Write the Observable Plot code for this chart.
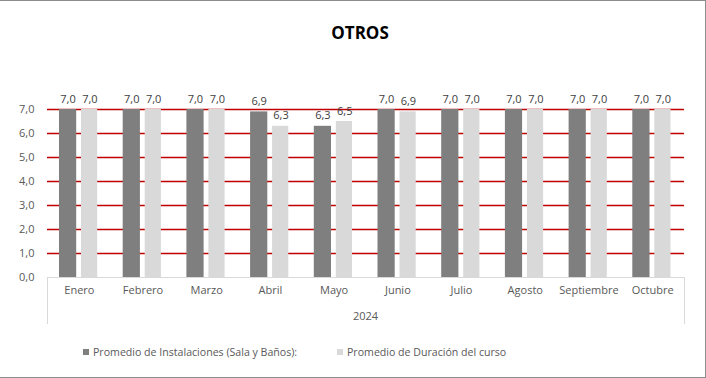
<!DOCTYPE html>
<html>
<head>
<meta charset="utf-8">
<script src="https://cdn.jsdelivr.net/npm/d3@7"></script>
<script src="https://cdn.jsdelivr.net/npm/@observablehq/plot@0.6"></script>
<style>
  html, body { margin: 0; padding: 0; background: #fff; }
  #wrap { position: relative; width: 706px; height: 378px; overflow: hidden; font-family: "Open Sans", sans-serif; }
  #wrap svg { position: absolute; left: 0; top: 0; }
  .abs { position: absolute; white-space: nowrap; line-height: 1; }
  #border { position: absolute; left: 0; top: 0; width: 706px; height: 378px; border-top: 1px solid #8c8c8c; border-right: 1px solid #8c8c8c; border-bottom: 1px solid #8c8c8c; box-sizing: border-box; pointer-events: none; }
  #axisbox { position: absolute; left: 47px; top: 277px; width: 638px; height: 47px; border: 1px solid #d9d9d9; border-bottom: none; box-sizing: border-box; pointer-events: none; }
</style>
</head>
<body>
<div id="wrap">
  <div id="axisbox"></div>
  <div id="title" class="abs" style="left:0; width:720px; top:24px; text-align:center; font-weight:bold; font-size:17px; color:#000;">OTROS</div>
  <div id="year" class="abs" style="left:47px; width:637px; top:310px; text-align:center; font-size:11px; color:#595959;">2024</div>
  <div id="legend" class="abs" style="left:83px; top:347px; font-size:10.6px; color:#595959;"></div>
  <div id="border"></div>
</div>
<script>
const months = ["Enero","Febrero","Marzo","Abril","Mayo","Junio","Julio","Agosto","Septiembre","Octubre"];
const instalaciones = [7.0,7.0,7.0,6.9,6.3,7.0,7.0,7.0,7.0,7.0];
const duracion = [7.0,7.0,7.0,6.3,6.5,6.9,7.0,7.0,7.0,7.0];
const seriesNames = ["Promedio de Instalaciones (Sala y Baños):", "Promedio de Duración del curso"];
const yearLabel = "2024";
const yTicks = [0,1,2,3,4,5,6,7];

const colors = ["#7f7f7f", "#d9d9d9"];
const gridColor = "#c00000";
const data = months.map((m, i) => ({month: m, inst: instalaciones[i], dur: duracion[i]}));
const fmt = v => v.toFixed(1).replace(".", ",");

const chart = Plot.plot({
  width: 706,
  height: 378,
  marginLeft: 47,
  marginRight: 22,
  marginTop: 109,
  marginBottom: 101,
  style: {fontFamily: "Open Sans, sans-serif", fontSize: "11px", color: gridColor, background: "transparent"},
  x: {domain: months, padding: 0, round: false, label: null},
  y: {domain: [0, 7], label: null},
  marks: [
    Plot.ruleY(yTicks.filter(d => d > 0), {stroke: gridColor, strokeWidth: 1.3}),
    Plot.barY(data, {x: "month", y: "inst", fill: colors[0], insetLeft: 12, insetRight: 34.5}),
    Plot.barY(data, {x: "month", y: "dur", fill: colors[1], insetLeft: 34, insetRight: 13.5}),
    Plot.text(data, {x: "month", y: "inst", text: d => fmt(d.inst), dx: -11.3, dy: -7, lineAnchor: "bottom", fill: "#404040", fontSize: 11}),
    Plot.text(data, {x: "month", y: "dur", text: d => fmt(d.dur), dx: 10.6, dy: -7, lineAnchor: "bottom", fill: "#404040", fontSize: 11}),
    Plot.axisY({ticks: yTicks, tickFormat: fmt, tickSize: 0, tickPadding: 13, label: null, fill: "#595959"}),
    Plot.axisX({tickSize: 0, tickPadding: 9, label: null, fill: "#595959"})
  ]
});
document.getElementById("wrap").insertBefore(chart, document.getElementById("axisbox"));
document.getElementById("year").textContent = yearLabel;

const legend = document.getElementById("legend");
const legendX = [0, 254];
seriesNames.forEach((name, i) => {
  const item = document.createElement("div");
  item.className = "abs";
  item.style.left = legendX[i] + "px";
  item.style.top = "0px";
  item.innerHTML = `<span style="display:inline-block;width:6px;height:6px;background:${colors[i]};margin-right:4px;vertical-align:1px;"></span>${name}`;
  legend.appendChild(item);
});
</script>
</body>
</html>
